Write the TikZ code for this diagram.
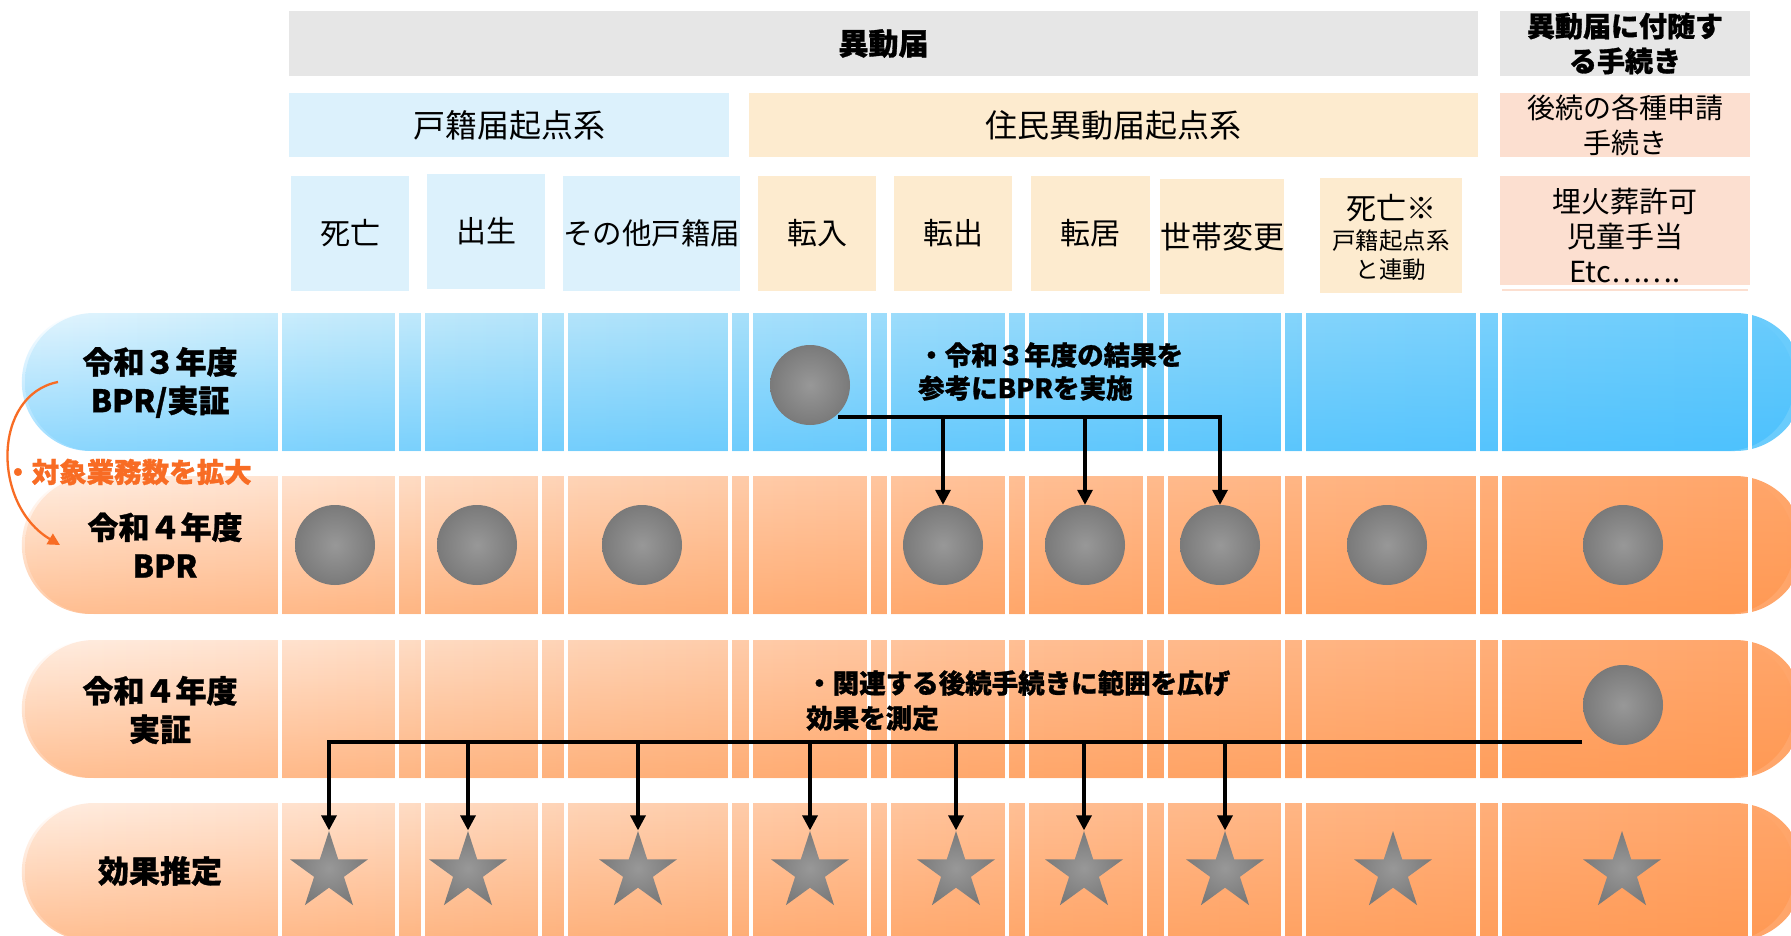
\documentclass[tikz,border=0pt]{standalone}
\usepackage{fontspec}
\setmainfont{Noto Sans CJK JP}[BoldFeatures={FakeBold=1}]
\usetikzlibrary{shapes.geometric,arrows.meta,fadings}
\newcommand{\fsz}[2]{\fontsize{#1pt}{#2pt}\selectfont}
\definecolor{b0}{RGB}{228,245,253}
\definecolor{b1}{RGB}{205,238,252}
\definecolor{b2}{RGB}{185,230,250}
\definecolor{b3}{RGB}{150,218,251}
\definecolor{b4}{RGB}{110,205,252}
\definecolor{b5}{RGB}{105,204,252}
\definecolor{o0}{RGB}{255,238,226}
\definecolor{o1}{RGB}{255,228,210}
\definecolor{o2}{RGB}{254,215,188}
\definecolor{o3}{RGB}{255,192,150}
\definecolor{o4}{RGB}{255,168,110}
\definecolor{o5}{RGB}{255,165,105}
\definecolor{bluedeep}{RGB}{45,182,255}
\definecolor{orangedeep}{RGB}{255,140,60}
\definecolor{hgray}{RGB}{230,230,230}
\definecolor{hblue}{RGB}{220,241,252}
\definecolor{hcream}{RGB}{253,235,207}
\definecolor{hpink}{RGB}{252,223,208}
\definecolor{dotlight}{RGB}{152,152,152}
\definecolor{dotdark}{RGB}{122,122,122}
\definecolor{orangetxt}{RGB}{248,108,36}
\pgfdeclarehorizontalshading{bluebar}{100bp}{color(0bp)=(b0); color(25bp)=(b0); color(31.3bp)=(b1); color(38.4bp)=(b2); color(52.4bp)=(b3); color(72.1bp)=(b4); color(75bp)=(b5); color(100bp)=(b5)}
\pgfdeclarehorizontalshading{orangebar}{100bp}{color(0bp)=(o0); color(25bp)=(o0); color(31.3bp)=(o1); color(38.4bp)=(o2); color(52.4bp)=(o3); color(72.1bp)=(o4); color(75bp)=(o5); color(100bp)=(o5)}
\tikzset{
  box/.style={inner sep=0pt, minimum height=115pt, text=black},
  dotc/.style={circle, minimum size=80pt, inner sep=0pt, inner color=dotlight, outer color=dotdark},
  starn/.style={star, star points=5, star point ratio=2.618, minimum size=82pt, inner sep=0pt, inner color=dotlight, outer color=dotdark},
  conn/.style={line width=3.3pt, -{Triangle[width=15pt,length=15pt]}},
  lbl/.style={font=\bfseries\fsz{31}{38.5}, align=center, inner sep=0pt},
  note/.style={font=\bfseries\fsz{26.5}{33}, align=left, inner sep=0pt, anchor=west},
  bar/.style={rounded corners=68.9pt},
  deepen/.style={rounded corners=68.9pt, path fading=north, fill opacity=0.48}
}
\begin{document}
\begin{tikzpicture}[x=1pt,y=-1pt]
\useasboundingbox (0,0) rectangle (1791,936);
\clip (0,0) rectangle (1791,936);
\fill[white] (0,0) rectangle (1791,936);
% bars
\shade[bar, shading=bluebar] (25,313) rectangle (1804,451);
\fill[deepen, bluedeep] (25,313) rectangle (1804,451);
\foreach \t/\b in {476/614,640/778,803/941} {
  \shade[bar, shading=orangebar] (25,\t) rectangle (1804,\b);
  \fill[deepen, orangedeep] (25,\t) rectangle (1804,\b);
}
\foreach \t/\b in {313/451,476/614,640/778,803/941} {
  \foreach \c in {280,397,423,540,566,730,750.5,868.5,889,1007,1027,1145,1165.5,1283,1304,1478,1500,1750} {
    \fill[white] (\c-2,\t-1) rectangle (\c+2,\b+1);
  }
}
% headers
\node[box, fill=hgray, minimum width=1189pt, minimum height=65pt, font=\bfseries\fsz{30}{36}] (hg1) at (883.5,43.5) {異動届};
\node[box, fill=hgray, minimum width=250pt, minimum height=65pt, align=center, font=\bfseries\fsz{28}{35}] (hg2) at (1625,43.5) {異動届に付随す\\る手続き};
\node[box, fill=hblue, minimum width=440pt, minimum height=64pt, font=\fsz{32}{38}] (hb) at (509,125) {戸籍届起点系};
\node[box, fill=hcream, minimum width=729pt, minimum height=64pt, font=\fsz{32}{38}] (hc) at (1113.5,125) {住民異動届起点系};
\node[box, fill=hpink, minimum width=250pt, minimum height=64pt, align=center, font=\fsz{28}{35}] (hp) at (1625,125) {後続の各種申請\\手続き};
\node[box, fill=hblue, minimum width=118pt, font=\fsz{30}{36}] (k1) at (350,233.5) {死亡};
\node[box, fill=hblue, minimum width=118pt, font=\fsz{30}{36}] (k2) at (486,231.5) {出生};
\node[box, fill=hblue, minimum width=175pt, font=\fsz{29.5}{36}] (k3) at (651.5,233.5) {その他戸籍届};
\node[box, fill=hcream, minimum width=118pt, font=\fsz{30}{36}] (k4) at (817,233.5) {転入};
\node[box, fill=hcream, minimum width=118pt, font=\fsz{30}{36}] (k5) at (953,233.5) {転出};
\node[box, fill=hcream, minimum width=119pt, font=\fsz{30}{36}] (k6) at (1090.5,233.5) {転居};
\node[box, fill=hcream, minimum width=122pt, font=\fsz{31}{36}] (k7) at (1222,236.5) {世帯変更};
\node[box, fill=hcream, minimum width=142pt] (k8) at (1391,235.5) {};
\node[inner sep=0pt, font=\fsz{30}{36}] (k8a) at (1391,208) {死亡※};
\node[inner sep=0pt, align=center, font=\fsz{23.5}{29}] (k8b) at (1391,255.5) {戸籍起点系\\と連動};
\node[box, fill=hpink, minimum width=250pt, minimum height=109pt] (k9) at (1625,230.5) {};
\node[inner sep=0pt, align=center, font=\fsz{29}{35}] (k9a) at (1625,235) {埋火葬許可\\児童手当\\Etc…….};
\fill[hpink] (1502,288.5) rectangle (1748,290.5);
% row labels
\node[lbl] (l1) at (160,382.5) {令和３年度\\BPR/実証};
\node[lbl] (l2) at (165,545) {令和４年度\\BPR};
\node[lbl] (l3) at (160,710) {令和４年度\\実証};
\node[lbl] (l4) at (160,871) {効果推定};
% circles
\node[dotc] (r1) at (810,385) {};
\foreach \n/\x in {a/335,b/477,c/642,d/943,e/1085,f/1220,g/1387,h/1623} {
  \node[dotc] (r2\n) at (\x,545) {};
}
\node[dotc] (r3) at (1623,705) {};
% stars
\foreach \n/\x in {1/329,2/468,3/638,4/810,5/956,6/1084,7/1225,8/1393,9/1622} {
  \node[starn] (s\n) at (\x,872) {};
}
% connectors row 1 -> row 2
\coordinate (h1) at (838,417);
\draw[conn] (h1) -| (r2f.north);
\draw[conn] (h1 -| r2d.north) -- (r2d.north);
\draw[conn] (h1 -| r2e.north) -- (r2e.north);
% connectors row 3 -> row 4
\coordinate (h3) at (1582,742);
\draw[conn] (h3) -| (s1.north);
\foreach \n in {2,3,4,5,6,7} {
  \draw[conn] (h3 -| s\n.north) -- (s\n.north);
}
% notes
\node[note] (t1) at (918,371.5) {・令和３年度の結果を\\参考にBPRを実施};
\node[note, font=\bfseries\fsz{26.5}{35}] (t3) at (806,700.5) {・関連する後続手続きに範囲を広げ\\効果を測定};
% orange arrow and text
\coordinate (oa1) at (58,382);
\coordinate (oa2) at (60,545);
\draw[orangetxt, line width=2.3pt, -{Triangle[width=12pt,length=12pt]}] (oa1) .. controls (-8,395) and (-8,505) .. (oa2);
\node[inner sep=0pt, anchor=west, text=orangetxt, font=\bfseries\fsz{27.5}{32}] (ot) at (4,472) {・対象業務数を拡大};
\end{tikzpicture}
\end{document}
